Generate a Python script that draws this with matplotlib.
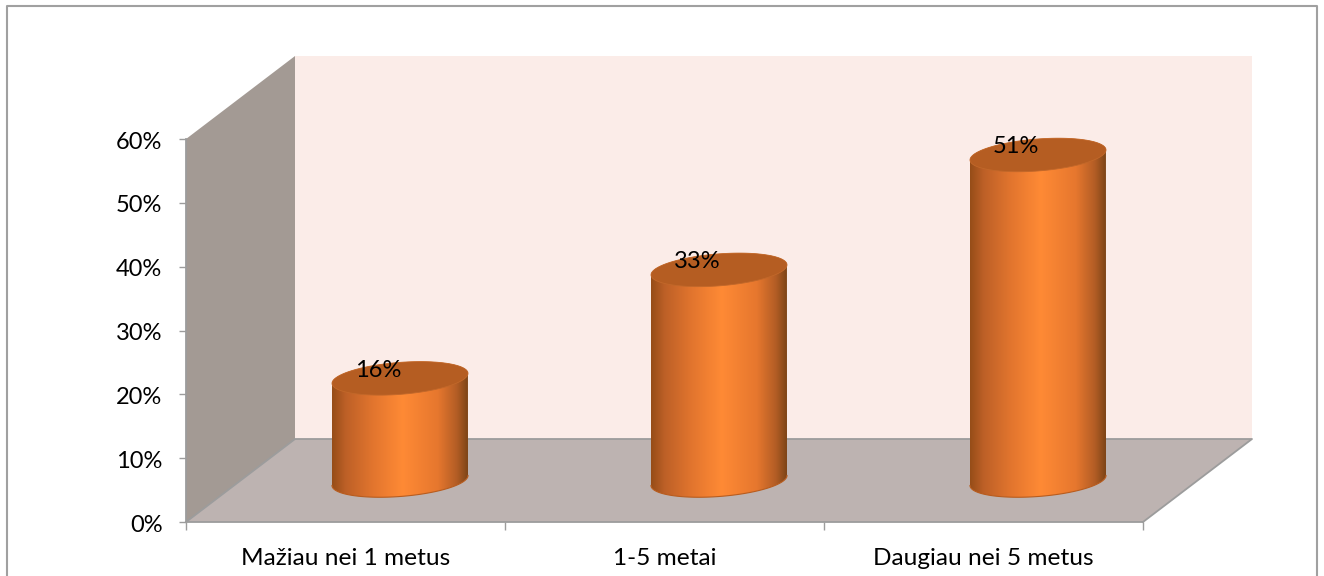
import matplotlib
matplotlib.use('Agg')
import matplotlib.pyplot as plt
import numpy as np
from matplotlib.colors import LinearSegmentedColormap
from matplotlib.patches import PathPatch, Polygon
from matplotlib.path import Path
from matplotlib.transforms import ScaledTranslation

# Data
categories = ['Mažiau nei 1 metus', '1-5 metai', 'Daugiau nei 5 metus']
values = [16, 33, 51]
y_ticks = [0, 10, 20, 30, 40, 50, 60]

# Pixel scale of the plot area
W, H = 1324, 576
X0, X_STEP = 186, 319.0
Y0, Y_STEP = 522, 6.383
DEPTH_X = 109 / X_STEP
DEPTH_Y = 83 / Y_STEP
RADIUS_X = 68 / X_STEP
RADIUS_Y = 16 / Y_STEP
SKEW_Y = 5 / Y_STEP

WALL = '#a39a94'
FLOOR = '#bdb3b1'
BACK = '#fbece8'
EDGE = '#9c9c9c'
TOP = '#b55d22'

plt.rcParams['font.family'] = ['Lato', 'DejaVu Sans']

fig = plt.figure(figsize=(W / 100, H / 100), dpi=100)
ax = fig.add_axes([0, 0, 1, 1])
ax.patch.set_visible(False)

# Gradient across the cylinder body
body_cmap = LinearSegmentedColormap.from_list('body', [
    (0.0, '#964d18'), (0.1, '#bd6027'), (0.3, '#e2752e'), (0.52, '#ff8a35'),
    (0.78, '#e6772e'), (0.92, '#b35d25'), (1.0, '#7e4517')])


def ellipse_pts(cx, cy, t):
    return np.column_stack([cx + RADIUS_X * np.cos(t),
                            cy + RADIUS_Y * np.sin(t) + SKEW_Y * np.cos(t)])


left, right = -0.5, len(categories) - 0.5
top = y_ticks[-1]

# Walls and floor of the box
ax.add_patch(Polygon([(left + DEPTH_X, DEPTH_Y), (right + DEPTH_X, DEPTH_Y),
                      (right + DEPTH_X, top + DEPTH_Y), (left + DEPTH_X, top + DEPTH_Y)],
                     facecolor=BACK, edgecolor='none', zorder=1))
ax.add_patch(Polygon([(left, 0), (left + DEPTH_X, DEPTH_Y),
                      (left + DEPTH_X, top + DEPTH_Y), (left, top)],
                     facecolor=WALL, edgecolor='none', zorder=1))
ax.add_patch(Polygon([(left, 0), (right, 0), (right + DEPTH_X, DEPTH_Y), (left + DEPTH_X, DEPTH_Y)],
                     facecolor=FLOOR, edgecolor='none', zorder=1))
ax.plot([left, left + DEPTH_X, right + DEPTH_X, right],
        [0, DEPTH_Y, DEPTH_Y, 0], color=EDGE, lw=1.3, zorder=2)

# Cylinders
for i, v in enumerate(values):
    cx = i + DEPTH_X / 2
    base = DEPTH_Y / 2
    lower = ellipse_pts(cx, base, np.linspace(np.pi, 2 * np.pi, 80))
    upper = ellipse_pts(cx, base + v, np.linspace(0, np.pi, 80))
    outline = np.vstack([lower, upper, lower[:1]])
    clip = PathPatch(Path(outline), facecolor='none', edgecolor='none', transform=ax.transData)
    ax.add_patch(clip)
    grad = np.linspace(0, 1, 256).reshape(1, -1)
    im = ax.imshow(grad, cmap=body_cmap, aspect='auto', zorder=3, interpolation='bilinear',
                   extent=[cx - RADIUS_X, cx + RADIUS_X, base - 5, base + v + 5])
    im.set_clip_path(clip)
    ax.plot(lower[:, 0], lower[:, 1], color='#b85c1e', lw=0.8, zorder=4)
    ax.fill(*ellipse_pts(cx, base + v, np.linspace(0, 2 * np.pi, 160)).T,
            facecolor=TOP, edgecolor='#c2682a', lw=0.6, zorder=5)
    ax.text(cx - 22 / X_STEP, base + v + 8 / Y_STEP, f'{v}%', ha='center', va='center',
            fontsize=17, color='black', zorder=6)

# Axis lines, ticks and labels
for name in ('top', 'right'):
    ax.spines[name].set_visible(False)
ax.spines['left'].set_position(('data', left))
ax.spines['left'].set_bounds(0, top)
ax.spines['bottom'].set_position(('data', 0))
ax.spines['bottom'].set_bounds(left, right)
for name in ('left', 'bottom'):
    ax.spines[name].set_color(EDGE)
    ax.spines[name].set_linewidth(1.3)
    ax.spines[name].set_zorder(2)

ax.set_yticks(y_ticks)
ax.set_yticklabels([f'{t}%' for t in y_ticks])
ax.set_xticks(np.arange(len(categories) + 1) - 0.5)
ax.set_xticklabels([])
ax.set_xticks(range(len(categories)), minor=True)
ax.set_xticklabels(categories, minor=True)
ax.tick_params(axis='y', direction='out', length=5, width=1, color=EDGE, labelsize=17, pad=12)
ax.tick_params(axis='x', which='major', direction='out', length=6, width=1, color=EDGE)
ax.tick_params(axis='x', which='minor', length=0, labelsize=17.6, pad=19)

# Nudge the percent labels down a pixel
nudge = ScaledTranslation(0, -1 / 100, fig.dpi_scale_trans)
for label in ax.get_yticklabels():
    label.set_transform(label.get_transform() + nudge)

ax.set_xlim(-0.5 - X0 / X_STEP, -0.5 + (W - X0) / X_STEP)
ax.set_ylim(-(H - Y0) / Y_STEP, Y0 / Y_STEP)

# Outer frame, open at the bottom
ax.plot(np.array([7, 7, 1317, 1317]) / X_STEP - 0.5 - X0 / X_STEP,
        (Y0 - np.array([600, 6, 6, 600])) / Y_STEP,
        color='#a0a0a0', lw=1.5, zorder=7)

fig.savefig('out.png', dpi=100)
